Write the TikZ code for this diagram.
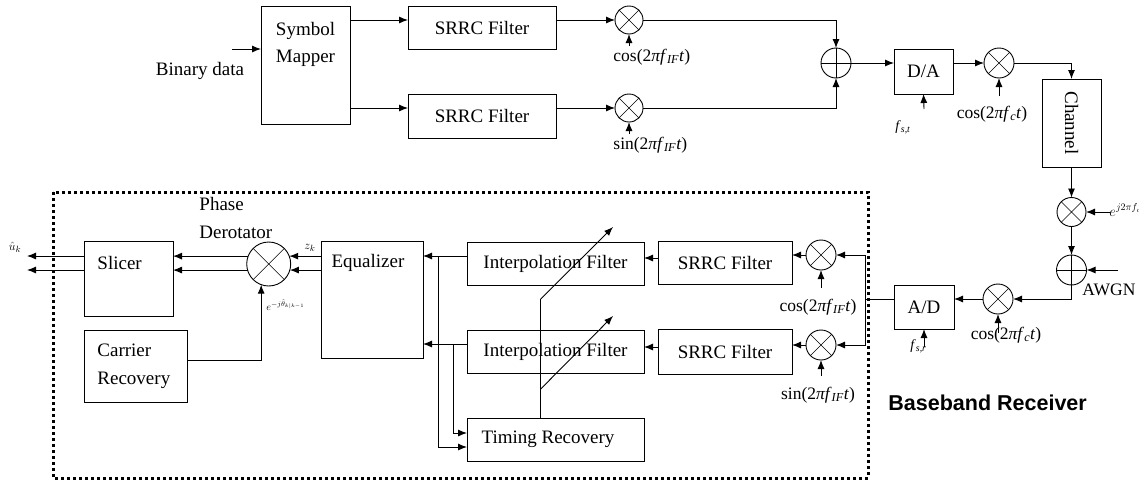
\documentclass[tikz,border=0pt]{standalone}
\usepackage{fontspec}
\setmainfont{Liberation Serif}
\newfontfamily\bbfont{Liberation Sans}
\usetikzlibrary{arrows.meta,calc}
\tikzset{
  box/.style={draw, inner sep=0pt, outer sep=0pt},
  txt/.style={font=\fontsize{19}{22}\selectfont, inner sep=0pt},
  lbl/.style={font=\fontsize{17.5}{20}\selectfont, inner sep=0pt},
  sml/.style={font=\fontsize{14}{16}\selectfont, inner sep=0pt},
  mixer/.style={circle, draw, minimum size=#1, inner sep=0pt, outer sep=0pt,
    path picture={\draw[line width=0.6pt] (path picture bounding box.north west) -- (path picture bounding box.south east)
      (path picture bounding box.north east) -- (path picture bounding box.south west);}},
  adder/.style={circle, draw, minimum size=#1, inner sep=0pt, outer sep=0pt,
    path picture={\draw[line width=0.8pt] (path picture bounding box.north) -- (path picture bounding box.south)
      (path picture bounding box.east) -- (path picture bounding box.west);}},
  dotbox/.style={line width=3pt, dash pattern=on 3pt off 3pt}
}
\begin{document}
\begin{tikzpicture}[x=1pt,y=-1pt,line width=0.9pt,>={Latex[length=9pt,width=7pt]}]
\path[use as bounding box] (0,0) rectangle (1139,485);
\clip (0,0) rectangle (1139,485);

% ---------- transmitter ----------
\node[box, minimum width=89pt, minimum height=118pt] (sm) at (305.5,65) {};
\node[txt, align=center] (smt) at (305.5,44) {Symbol\\[5pt]Mapper};
\coordinate (bd) at (232,49);
\draw[->] (bd) -- (sm.west |- bd);
\node[txt] (bdt) at (200,71) {Binary data};

\node[box, minimum width=148pt, minimum height=43pt] (s1) at (482,27.5) {};
\node[txt] (s1t) at (482,27.5) {SRRC Filter};
\node[box, minimum width=148pt, minimum height=44pt] (s2) at (482,116) {};
\node[txt] (s2t) at (482,116) {SRRC Filter};

\node[mixer=28pt] (m1) at (629,20) {};
\node[mixer=28pt] (m2) at (629,108) {};
\draw[->] (sm.east |- m1) -- (s1.west |- m1);
\draw[->] (sm.east |- m2) -- (s2.west |- m2);
\draw[->] (s1.east |- m1) -- (m1.west);
\draw[->] (s2.east |- m2) -- (m2.west);
\coordinate (c1) at (629,46);
\coordinate (c2) at (629,134);
\draw[->] (c1) -- (m1.south);
\draw[->] (c2) -- (m2.south);
\node[lbl, anchor=west] (c1t) at (613,57) {cos(2\textit{πf}\textsubscript{\textit{IF}}\textit{t})};
\node[lbl, anchor=west] (c2t) at (613,145) {sin(2\textit{πf}\textsubscript{\textit{IF}}\textit{t})};

\node[adder=30pt] (a1) at (836,63) {};
\draw[->] (m1.east) -| (a1.north);
\draw[->] (m2.east) -| (a1.south);

\node[box, minimum width=59pt, minimum height=45pt] (da) at (923.5,71.5) {};
\node[txt] (dat) at (923.5,71.5) {D/A};
\draw[->] (a1.east) -- (da.west |- a1);
\coordinate (fst) at (924,109);
\draw[->] (fst) -- (da.south);
\node[sml, anchor=west] (fstt) at (895,127) {\textit{f}\textsubscript{\textit{s,t}}};

\node[mixer=30pt] (m3) at (999,63) {};
\draw[->] (da.east |- m3) -- (m3.west);
\coordinate (c3) at (999,96);
\draw[->] (c3) -- (m3.south);
\node[lbl] (c3t) at (992,114) {cos(2\textit{πf}\textsubscript{\textit{c}}\textit{t})};

\node[box, minimum width=59pt, minimum height=88pt] (ch) at (1071.5,123) {};
\node[txt, rotate=-90] (cht) at (1071.5,123) {Channel};
\draw[->] (m3.east) -| (ch.north);

% ---------- channel impairments ----------
\node[mixer=29pt] (m4) at (1071.5,212) {};
\draw[->] (ch.south) -- (m4.north);
\coordinate (fd) at (1110,212);
\draw[->] (fd) -- (m4.east);
\node[sml, anchor=west] (fdt) at (1109,210) {$e^{j2\pi f_d}$};

\node[adder=30pt] (a2) at (1071.5,270) {};
\draw[->] (m4.south) -- (a2.north);
\coordinate (aw) at (1118,270);
\draw[->] (aw) -- (a2.east);
\node[lbl, anchor=west] (awt) at (1082,290) {AWGN};

% ---------- receiver front end ----------
\node[mixer=30pt] (m5) at (998,299) {};
\draw[->] (a2.south) |- (m5.east);
\coordinate (c5) at (998,333);
\draw[->] (c5) -- (m5.south);
\node[lbl] (c5t) at (1006,335) {cos(2\textit{πf}\textsubscript{\textit{c}}\textit{t})};

\node[box, minimum width=60pt, minimum height=44pt] (ad) at (924,307) {};
\node[txt] (adt) at (924,307) {A/D};
\draw[->] (m5.west) -- (ad.east |- m5);
\coordinate (fsr) at (924,347);
\draw[->] (fsr) -- (ad.south);
\node[sml, anchor=west] (fsrt) at (910,346) {\textit{f}\textsubscript{\textit{s,r}}};

\node[mixer=30pt] (m6) at (821,255) {};
\node[mixer=30pt] (m7) at (821,345) {};
\coordinate (j1) at (865,299);
\draw (ad.west |- j1) -- (j1);
\draw[->] (j1) |- (m6.east);
\draw[->] (j1) |- (m7.east);
\coordinate (c6) at (821,288);
\coordinate (c7) at (821,376);
\draw[->] (c6) -- (m6.south);
\draw[->] (c7) -- (m7.south);
\node[lbl] (c6t) at (818,307) {cos(2\textit{πf}\textsubscript{\textit{IF}}\textit{t})};
\node[lbl] (c7t) at (818,395) {sin(2\textit{πf}\textsubscript{\textit{IF}}\textit{t})};

\node[box, minimum width=134pt, minimum height=43pt] (s3) at (725,262.5) {};
\node[txt] (s3t) at (725,262.5) {SRRC Filter};
\node[box, minimum width=134pt, minimum height=45pt] (s4) at (725,351.5) {};
\node[txt] (s4t) at (725,351.5) {SRRC Filter};
\draw[->] (m6.west) -- (s3.east |- m6);
\draw[->] (m7.west) -- (s4.east |- m7);

\node[box, minimum width=177pt, minimum height=43pt] (ip1) at (555.5,263.5) {};
\node[txt] (ip1t) at (555.5,263.5) {Interpolation Filter};
\node[box, minimum width=177pt, minimum height=43pt] (ip2) at (555.5,351.5) {};
\node[txt] (ip2t) at (555.5,351.5) {Interpolation Filter};
\coordinate (y3) at (0,258);
\coordinate (y4) at (0,347);
\draw[->] (s3.west |- y3) -- (ip1.east |- y3);
\draw[->] (s4.west |- y4) -- (ip2.east |- y4);

\node[box, minimum width=177pt, minimum height=43pt] (tr) at (555.5,439.5) {};
\node[txt] (trt) at (548,439.5) {Timing Recovery};

\node[box, minimum width=102pt, minimum height=117pt] (eq) at (372,299.5) {};
\node[txt] (eqt) at (368,263) {Equalizer};

\coordinate (y1) at (0,256);
\coordinate (y2) at (0,344);
\draw[->] (ip1.west |- y1) -- (eq.east |- y1);
\draw[->] (ip2.west |- y2) -- (eq.east |- y2);
\coordinate (b1) at (438,256);
\coordinate (b2) at (453,344);
\coordinate (t1) at (0,447);
\coordinate (t2) at (0,433);
\draw[->] (b1) |- (tr.west |- t1);
\draw[->] (b2) |- (tr.west |- t2);

\coordinate (k0) at (540.7,418);
\coordinate (k1) at (540.7,299);
\coordinate (k2) at (540.7,389);
\coordinate (e1) at (613,227);
\coordinate (e2) at (613,316);
\draw (tr.north -| k0) -- (k1);
\draw[->] (k1) -- (e1);
\draw[->] (k2) -- (e2);

% ---------- derotator, slicer, carrier ----------
\node[circle, draw, minimum size=44pt, inner sep=0pt, outer sep=0pt,
  path picture={\draw[line width=0.6pt] (path picture bounding box.north west) -- (path picture bounding box.south east)
      (path picture bounding box.north east) -- (path picture bounding box.south west);}] (dr) at (268.7,264) {};
\draw[->] (eq.west |- dr.21) -- (dr.21);
\draw[->] (eq.west |- dr.-16) -- (dr.-16);
\node[sml, font=\fontsize{13}{15}\selectfont] (zk) at (310,248) {$z_k$};

\node[box, minimum width=89pt, minimum height=75pt] (sl) at (128.5,278.5) {};
\node[txt, anchor=west] (slt) at (97,263) {Slicer};
\draw[->] (dr.159) -- (sl.east |- dr.159);
\draw[->] (dr.-164) -- (sl.east |- dr.-164);
\coordinate (o1) at (27,256);
\coordinate (o2) at (27,270);
\draw[->] (sl.west |- o1) -- (o1);
\draw[->] (sl.west |- o2) -- (o2);
\node[sml, font=\fontsize{13}{15}\selectfont] (uk) at (15,247) {$\hat{u}_k$};

\node[box, minimum width=103pt, minimum height=72pt] (cr) at (135.5,366) {};
\node[txt, anchor=west, align=left] (crt) at (97,366) {Carrier\\[6pt]Recovery};
\coordinate (y5) at (0,360);
\draw[->] (cr.east |- y5) -| (dr.-110);
\node[anchor=west, inner sep=0pt, font=\fontsize{10}{12}\selectfont] (tht) at (266,305) {$e^{-j\hat\theta_{k|k-1}}$};

\node[txt, anchor=west, align=left] (pdt) at (199,217.5) {Phase\\[6pt]Derotator};

% ---------- receiver boundary ----------
\draw[dotbox] (53,192) rectangle (868,478);
\node[anchor=west, inner sep=0pt, font=\bbfont\bfseries\fontsize{21.5}{24}\selectfont] (bbt) at (888,403) {Baseband Receiver};
\end{tikzpicture}
\end{document}
